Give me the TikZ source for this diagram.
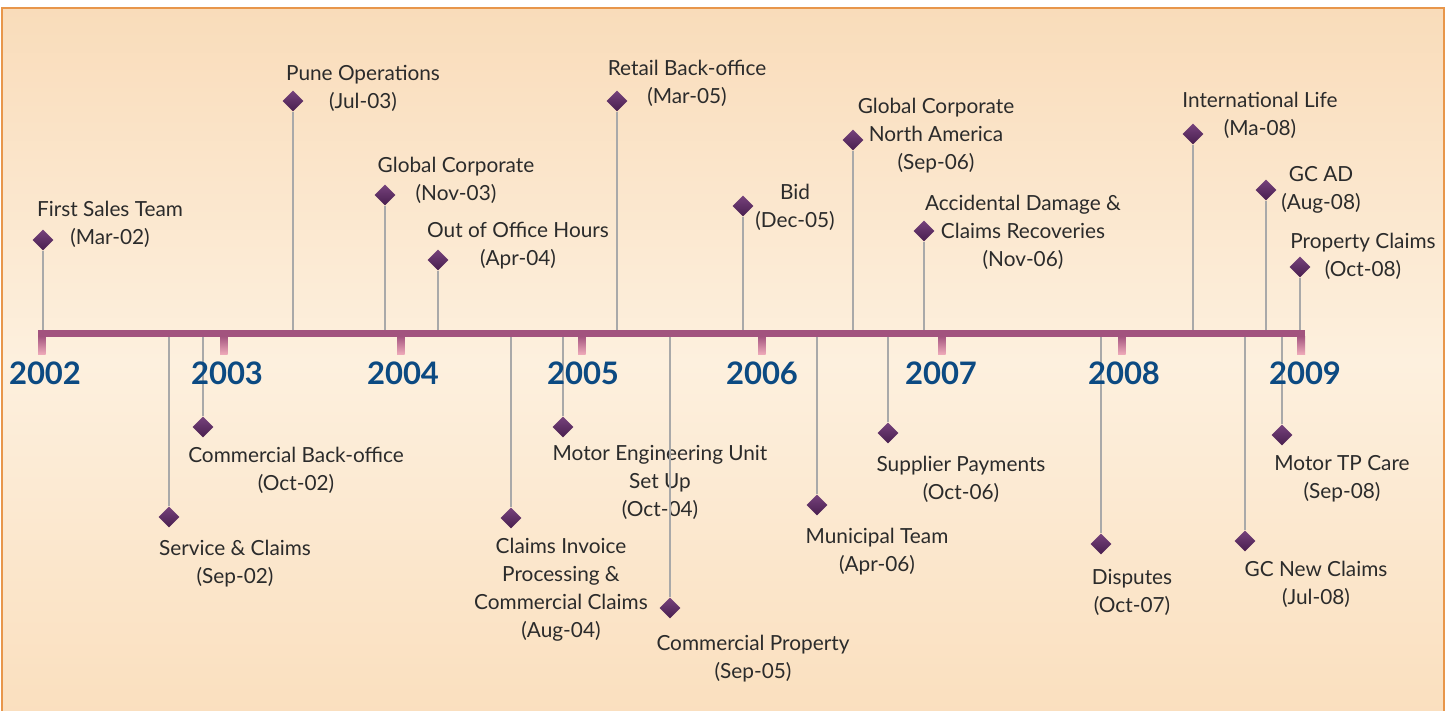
\documentclass[tikz,border=0pt]{standalone}
\usepackage{fontspec}
\setmainfont{Lato}
\usetikzlibrary{shapes.geometric}

\definecolor{bgtop}{HTML}{F9DCBA}
\definecolor{bgmid}{HTML}{FDF0DE}
\definecolor{bgbot}{HTML}{FADFBE}
\definecolor{framecol}{HTML}{E8964A}
\definecolor{axiscol}{HTML}{A2537E}
\definecolor{axispale}{HTML}{EDA8B8}
\definecolor{yearblue}{HTML}{0C4A82}
\definecolor{stemgray}{HTML}{A9A9A9}
\definecolor{gemtop}{HTML}{76427C}
\definecolor{gembot}{HTML}{481E4E}
\definecolor{txtcol}{HTML}{2B2B2B}

\tikzset{
  gem/.style={diamond, aspect=1, minimum width=21pt, minimum height=21pt,
    inner sep=0pt, top color=gemtop, bottom color=gembot},
  stem/.style={stemgray, line width=2pt},
  event/.style={align=center, text=txtcol, inner sep=0pt,
    font=\fontsize{20.8}{28}\selectfont},
  year/.style={text=yearblue, inner sep=0pt, font=\fontsize{31}{31}\selectfont\bfseries},
  tick/.style={top color=axiscol, bottom color=axispale},
}

\begin{document}
\begin{tikzpicture}[x=1pt, y=-1pt]
    \useasboundingbox (0,0) rectangle (1450,711);

    % Background panel
    \shade[top color=bgtop, bottom color=bgbot, middle color=bgmid] (2,8) rectangle (1444,716);
    \draw[framecol, line width=2.5pt] (2,8) rectangle (1444,716);

    \coordinate (axtop) at (0,332);
    \coordinate (axbot) at (0,336);

    % Events above the axis
    \node[gem] (fst) at (43,240) {};
    \node[event] (fstlbl) at (110,224) {First Sales Team\\(Mar-02)};
    \draw[stem] (fst.south) -- (fst |- axtop);

    \node[gem] (pune) at (293,101) {};
    \node[event] (punelbl) at (363,88) {Pune Operations\\(Jul-03)};
    \draw[stem] (pune.south) -- (pune |- axtop);

    \node[gem] (gcorp) at (385,195) {};
    \node[event] (gcorplbl) at (456,180) {Global Corporate\\(Nov-03)};
    \draw[stem] (gcorp.south) -- (gcorp |- axtop);

    \node[gem] (ooh) at (438,260) {};
    \node[event] (oohlbl) at (518,246) {Out of Office Hours\\(Apr-04)};
    \draw[stem] (ooh.south) -- (ooh |- axtop);

    \node[gem] (retail) at (617,101) {};
    \node[event] (retaillbl) at (687,83) {Retail Back-office\\(Mar-05)};
    \draw[stem] (retail.south) -- (retail |- axtop);

    \node[gem] (bid) at (743,206) {};
    \node[event] (bidlbl) at (795,207) {Bid\\(Dec-05)};
    \draw[stem] (bid.south) -- (bid |- axtop);

    \node[gem] (gcna) at (853,140) {};
    \node[event] (gcnalbl) at (936,136) {Global Corporate\\North America\\(Sep-06)};
    \draw[stem] (gcna.south) -- (gcna |- axtop);

    \node[gem] (accd) at (924,231) {};
    \node[event] (accdlbl) at (1023,232) {Accidental Damage \&\\Claims Recoveries\\(Nov-06)};
    \draw[stem] (accd.south) -- (accd |- axtop);

    \node[gem] (intl) at (1193,134) {};
    \node[event] (intllbl) at (1260,115) {International Life\\(Ma-08)};
    \draw[stem] (intl.south) -- (intl |- axtop);

    \node[gem] (gcad) at (1266,190) {};
    \node[event] (gcadlbl) at (1321,190) {GC AD\\(Aug-08)};
    \draw[stem] (gcad.south) -- (gcad |- axtop);

    \node[gem] (prop) at (1300,267) {};
    \node[event] (proplbl) at (1363,256) {Property Claims\\(Oct-08)};
    \draw[stem] (prop.south) -- (prop |- axtop);

    % Events below the axis
    \node[gem] (serv) at (169,517) {};
    \node[event] (servlbl) at (235,564) {Service \& Claims\\(Sep-02)};
    \draw[stem] (serv.north) -- (serv |- axbot);

    \node[gem] (cbo) at (203,427) {};
    \node[event] (cbolbl) at (296,470) {Commercial Back-office\\(Oct-02)};
    \draw[stem] (cbo.north) -- (cbo |- axbot);

    \node[gem] (cip) at (511,518) {};
    \node[event] (ciplbl) at (561,590) {Claims Invoice\\Processing \&\\Commercial Claims\\(Aug-04)};
    \draw[stem] (cip.north) -- (cip |- axbot);

    \node[gem] (meu) at (563,427) {};
    \node[event] (meulbl) at (660,482) {Motor Engineering Unit\\Set Up\\(Oct-04)};
    \draw[stem] (meu.north) -- (meu |- axbot);

    \node[gem] (cprop) at (670,608) {};
    \node[event] (cproplbl) at (753,659) {Commercial Property\\(Sep-05)};
    \draw[stem] (cprop.north) -- (cprop |- axbot);

    \node[gem] (muni) at (817,505) {};
    \node[event] (munilbl) at (877,552) {Municipal Team\\(Apr-06)};
    \draw[stem] (muni.north) -- (muni |- axbot);

    \node[gem] (supp) at (888,433) {};
    \node[event] (supplbl) at (961,479) {Supplier Payments\\(Oct-06)};
    \draw[stem] (supp.north) -- (supp |- axbot);

    \node[gem] (disp) at (1101,544) {};
    \node[event] (displbl) at (1132,592) {Disputes\\(Oct-07)};
    \draw[stem] (disp.north) -- (disp |- axbot);

    \node[gem] (gcnc) at (1245,541) {};
    \node[event] (gcnclbl) at (1316,584) {GC New Claims\\(Jul-08)};
    \draw[stem] (gcnc.north) -- (gcnc |- axbot);

    \node[gem] (mtp) at (1282,435) {};
    \node[event] (mtplbl) at (1342,479) {Motor TP Care\\(Sep-08)};
    \draw[stem] (mtp.north) -- (mtp |- axbot);

    % Axis bar and year ticks
    \fill[axiscol] (38,330) rectangle (1305,337);
    \shade[tick] (38,336) rectangle (45.5,354);
    \shade[tick] (220,336) rectangle (227.5,354);
    \shade[tick] (397,336) rectangle (404.5,354);
    \shade[tick] (578,336) rectangle (585.5,354);
    \shade[tick] (758,336) rectangle (765.5,354);
    \shade[tick] (938,336) rectangle (945.5,354);
    \shade[tick] (1118,336) rectangle (1125.5,354);
    \shade[tick] (1297,336) rectangle (1305,354);

    % Years
    \node[year] (y2002) at (45,373) {2002};
    \node[year] (y2003) at (227,373) {2003};
    \node[year] (y2004) at (403,373) {2004};
    \node[year] (y2005) at (583,373) {2005};
    \node[year] (y2006) at (762,373) {2006};
    \node[year] (y2007) at (941,373) {2007};
    \node[year] (y2008) at (1124,373) {2008};
    \node[year] (y2009) at (1305,373) {2009};
\end{tikzpicture}
\end{document}
